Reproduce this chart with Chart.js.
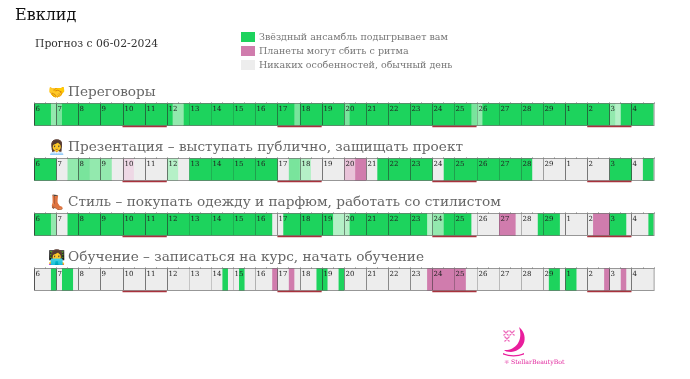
<!DOCTYPE html>
<html lang="ru">
<head>
<meta charset="utf-8">
<title>Евклид</title>
<script src="https://cdn.jsdelivr.net/npm/chart.js@4/dist/chart.umd.min.js"></script>
<style>
    html, body { margin: 0; padding: 0; background: #fff; }
    body { width: 690px; height: 379px; position: relative; overflow: hidden; font-family: "DejaVu Serif", serif; }
    #chart { position: absolute; left: 0; top: 0; }
    .txt { position: absolute; white-space: nowrap; line-height: 1; }
    .title { left: 15px; top: 7px; font-size: 16px; color: #111; }
    .subtitle { left: 35px; top: 39px; font-size: 10.8px; color: #333; }
    .legend-box { position: absolute; left: 241px; width: 14px; height: 10px; }
    .legend-text { left: 259px; font-size: 9.5px; color: #777; }
    .row-title { left: 68px; font-size: 13.65px; color: #666; }
    .row-icon { left: 48px; font-size: 14px; font-family: "Noto Color Emoji", sans-serif; }
    .brand { left: 504px; top: 359px; font-size: 6.2px; color: #e0209a; }
</style>
</head>
<body>
<canvas id="chart" width="690" height="379"></canvas>
<svg style="position:absolute;left:500px;top:326px" width="30" height="32" viewBox="0 0 30 32">
    <path d="M19 1 C28 8 27 24 11 26 C7 26 5 25 4 24 C14 25 24 16 19 1 Z" fill="#e91e9c"/>
    <path d="M3 27 C10 30 17 30 24 27 L24 28.5 C17 31 10 31 3 28.5 Z" fill="#e91e9c"/>
    <path d="M3.5 4.5 L8.5 9.5 M8.5 4.5 L3.5 9.5 M9.5 4.5 L14.5 9.5 M14.5 4.5 L9.5 9.5 M4.5 10.5 L9.5 15.5 M9.5 10.5 L4.5 15.5" stroke="#ee6cbc" stroke-width="1.2"/>
</svg>
<div class="txt brand">⚛ StellarBeautyBot</div>

<script>
// offsets are in days from 06-02
const dayLabels = ['6', '7', '8', '9', '10', '11', '12', '13', '14', '15', '16', '17', '18', '19', '20', '21', '22', '23', '24', '25', '26', '27', '28', '29', '1', '2', '3', '4'];
const dayLineAlpha = [0.6, 0.6, 0.6, 0.6, 0.6, 0.6, 0.6, 0.2, 0.2, 0.2, 0.3, 0.5, 0.5, 0.6, 0.5, 0.5, 0.5, 0.5, 0.5, 0.3, 0.25, 0.25, 0.3, 0.4, 0.6, 0.6, 0.6, 0.6];
const rowNames = ['Переговоры', 'Презентация – выступать публично, защищать проект', 'Стиль – покупать одежду и парфюм, работать со стилистом', 'Обучение – записаться на курс, начать обучение'];
const rowIcons = ['🤝', '👩‍💼', '👢', '👩‍💻'];
const legendLabels = ['Звёздный ансамбль подыгрывает вам', 'Планеты могут сбить с ритма', 'Никаких особенностей, обычный день'];
const underlinedDays = [[4, 6], [11, 13], [18, 20], [25, 27]];

const negotiationSpans = [[0, 0.75, 'G'], [0.75, 1, 'L2'], [1, 1.25, 'L1'], [1.25, 6.25, 'G'], [6.25, 6.75, 'L2'], [6.75, 11.75, 'G'], [11.75, 12, 'L1'], [12, 14, 'G'], [14, 14.25, 'L1'], [14.25, 19.75, 'G'], [19.75, 20, 'L1'], [20, 20.25, 'L2'], [20.25, 26, 'G'], [26, 26.25, 'L2'], [26.25, 26.5, 'L3'], [26.5, 28, 'G']];
const presentationSpans = [[0, 1, 'G'], [1, 1.5, 'N'], [1.5, 2, 'L2'], [2, 2.5, 'L1'], [2.5, 3.5, 'L2'], [3.5, 4, 'N'], [4, 4.5, 'P2'], [4.5, 6, 'N'], [6, 6.5, 'L3'], [6.5, 7, 'N'], [7, 11, 'G'], [11, 11.5, 'N'], [11.5, 12, 'L1'], [12, 12.5, 'L3'], [12.5, 14, 'N'], [14, 14.5, 'P1'], [14.5, 15, 'P'], [15, 15.5, 'N'], [15.5, 18, 'G'], [18, 18.5, 'N'], [18.5, 22.5, 'G'], [22.5, 26, 'N'], [26, 27, 'G'], [27, 27.5, 'N'], [27.5, 28, 'G']];
const styleSpans = [[0, 0.75, 'G'], [0.75, 1, 'L2'], [1, 1.5, 'N'], [1.5, 10.75, 'G'], [10.75, 11.25, 'N'], [11.25, 13.5, 'G'], [13.5, 14.25, 'L3'], [14.25, 17.75, 'G'], [17.75, 18, 'L3'], [18, 18.5, 'L2'], [18.5, 19.75, 'G'], [19.75, 21, 'N'], [21, 21.75, 'P'], [21.75, 22.75, 'N'], [22.75, 23.75, 'G'], [23.75, 25.25, 'N'], [25.25, 26, 'P'], [26, 26.75, 'G'], [26.75, 27.75, 'N'], [27.75, 28, 'G']];
const studySpans = [[0, 0.75, 'N'], [0.75, 1, 'G'], [1, 1.25, 'N'], [1.25, 1.75, 'G'], [1.75, 8.5, 'N'], [8.5, 8.75, 'G'], [8.75, 9.25, 'N'], [9.25, 9.5, 'G'], [9.5, 10.75, 'N'], [10.75, 11, 'P'], [11, 11.5, 'N'], [11.5, 11.75, 'P'], [11.75, 12.75, 'N'], [12.75, 13.25, 'G'], [13.25, 13.75, 'N'], [13.75, 14, 'G'], [14, 17.75, 'N'], [17.75, 19.5, 'P'], [19.5, 23.25, 'N'], [23.25, 23.75, 'G'], [23.75, 24, 'N'], [24, 24.5, 'G'], [24.5, 25.75, 'N'], [25.75, 26, 'P'], [26, 26.5, 'N'], [26.5, 26.75, 'P'], [26.75, 28, 'N']];

const stateColors = { G: '#1dd35d', L1: '#79e49c', L2: '#93e9ae', L3: '#b5f0c7', N: '#ededed', P: '#d07cad', P1: '#e9c3d9', P2: '#eed8e5' };
const rowSpans = [negotiationSpans, presentationSpans, styleSpans, studySpans];
const rowTitleTops = [85, 140, 195, 250];

function buildDatasets() {
    let datasets = [];
    rowSpans.forEach((spans, rowIndex) => {
        spans.forEach(span => {
            let values = [null, null, null, null];
            values[rowIndex] = [span[0], span[1]];
            datasets.push({
                data: values,
                backgroundColor: stateColors[span[2]],
                borderWidth: 0,
                barThickness: 22,
                grouped: false
            });
        });
    });
    return datasets;
}

function addHtmlText() {
    let body = document.body;
    function addText(cls, text, top) {
        let el = document.createElement('div');
        el.className = 'txt ' + cls;
        el.textContent = text;
        if (top !== undefined) {
            el.style.top = top + 'px';
        }
        body.appendChild(el);
    }
    addText('title', 'Евклид');
    addText('subtitle', 'Прогноз с 06-02-2024');
    ['G', 'P', 'N'].forEach((key, i) => {
        let box = document.createElement('div');
        box.className = 'legend-box';
        box.style.top = (32 + i * 14) + 'px';
        box.style.background = stateColors[key];
        body.appendChild(box);
        addText('legend-text', legendLabels[i], 32 + i * 14);
    });
    rowNames.forEach((name, i) => {
        addText('row-title', name, rowTitleTops[i]);
        addText('row-icon', rowIcons[i], rowTitleTops[i]);
    });
}

// day grid, half-day ticks, day numbers and the red underlines on top of the bars
const dayGridPlugin = {
    id: 'dayGrid',
    afterDatasetsDraw(chart) {
        let ctx = chart.ctx;
        let x = chart.scales.x;
        let y = chart.scales.y;
        ctx.save();
        rowNames.forEach((name, rowIndex) => {
            let center = y.getPixelForValue(rowIndex);
            let top = Math.round(center - 11);
            let bottom = top + 22;
            let left = x.getPixelForValue(0);
            let right = x.getPixelForValue(dayLabels.length);

            ctx.strokeStyle = 'rgba(90,90,90,0.6)';
            ctx.lineWidth = 1;
            ctx.strokeRect(left + 0.5, top - 0.5, right - left, 22);

            ctx.strokeStyle = 'rgba(120,120,120,0.5)';
            for (let q = 0; q <= dayLabels.length * 2; q++) {
                let px = Math.round(x.getPixelForValue(q / 2)) + 0.5;
                ctx.beginPath();
                ctx.moveTo(px, top - 2);
                ctx.lineTo(px, top);
                ctx.stroke();
            }

            dayLabels.forEach((label, dayIndex) => {
                let px = Math.round(x.getPixelForValue(dayIndex)) + 0.5;
                ctx.strokeStyle = 'rgba(40,40,40,' + dayLineAlpha[dayIndex] + ')';
                ctx.beginPath();
                ctx.moveTo(px, top);
                ctx.lineTo(px, bottom - 1);
                ctx.stroke();

                ctx.fillStyle = '#222';
                ctx.font = '7px "DejaVu Serif"';
                ctx.textBaseline = 'top';
                ctx.fillText(label, px + 1, top + 2);
            });

            ctx.strokeStyle = '#a8323c';
            ctx.lineWidth = 1.5;
            underlinedDays.forEach(days => {
                ctx.beginPath();
                ctx.moveTo(x.getPixelForValue(days[0]), bottom + 0.5);
                ctx.lineTo(x.getPixelForValue(days[1]), bottom + 0.5);
                ctx.stroke();
            });
            ctx.lineWidth = 1;
        });
        ctx.restore();
    }
};

addHtmlText();

new Chart(document.getElementById('chart'), {
    type: 'bar',
    data: {
        labels: rowNames,
        datasets: buildDatasets()
    },
    options: {
        indexAxis: 'y',
        responsive: false,
        animation: false,
        layout: { padding: { left: 34, right: 36.4, top: 87, bottom: 72 } },
        plugins: { legend: { display: false }, tooltip: { enabled: false } },
        scales: {
            x: { type: 'linear', min: 0, max: dayLabels.length, display: false },
            y: { type: 'category', display: false }
        }
    },
    plugins: [dayGridPlugin]
});
</script>
</body>
</html>
